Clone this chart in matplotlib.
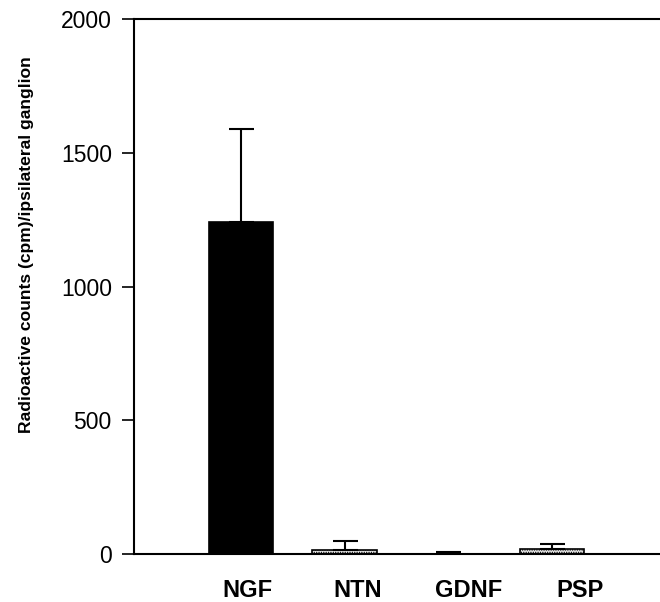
import numpy as np
import matplotlib.pyplot as plt

plt.rcParams['font.family'] = ['Liberation Sans', 'DejaVu Sans']
plt.rcParams['hatch.linewidth'] = 0.6

# data
factors = ['NGF', 'NTN', 'GDNF', 'PSP']
counts = [1240, 15, 0, 18]
sem = [350, 34, 8, 19]

fig = plt.figure(figsize=(6.6, 6.02), dpi=100)
ax = fig.add_axes([134 / 660, 48 / 602, 1 - 134 / 660, 535 / 602])

x = np.arange(1, len(factors) + 1)
colors = ['black', '#e6e6e6', '#e6e6e6', '#e6e6e6']
hatches = ['', '.......', '.......', '.......']
bars = ax.bar(x, counts, width=0.62, color=colors, edgecolor='black', linewidth=1.2, zorder=2)
for b, h in zip(bars, hatches):
    b.set_hatch(h)

ax.errorbar(x, counts, yerr=[np.zeros(len(sem)), sem], fmt='none', ecolor='black',
            elinewidth=1.5, capsize=9, capthick=1.5, zorder=3)

ax.set_xlim(-0.03, 5.04)
ax.set_ylim(0, 2000)
ax.set_yticks([0, 500, 1000, 1500, 2000])
# category labels in the original drift a little right of the bars
ax.set_xticks(x * 1.07 - 0.01)
ax.set_xticklabels(factors, fontsize=17, fontweight='bold')
ax.tick_params(axis='x', length=0, pad=18)
ax.tick_params(axis='y', direction='out', length=9, width=1.2, labelsize=16.5, pad=7)

ax.spines['right'].set_visible(False)
for s in ['left', 'bottom', 'top']:
    ax.spines[s].set_linewidth(1.5)

ax.set_ylabel('Radioactive counts (cpm)/ipsilateral ganglion', fontsize=12.6, fontweight='bold')
ax.yaxis.set_label_coords(-0.19, 0.579)

fig.savefig('out.png', dpi=100)
